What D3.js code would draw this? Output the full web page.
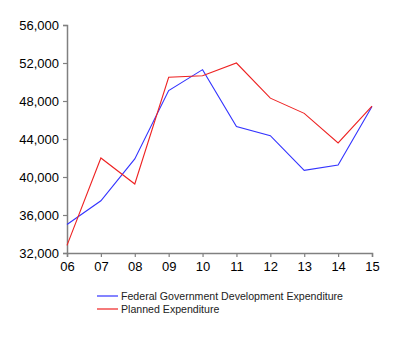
<!DOCTYPE html>
<html><head><meta charset="utf-8">
<script src="https://cdn.jsdelivr.net/npm/d3@7"></script>
<style>body{margin:0;background:#fff}svg{display:block}</style>
</head><body>
<svg id="c" width="400" height="339"></svg>
<script>
const years = ["06","07","08","09","10","11","12","13","14","15"];
const federal = [35000,37500,41900,49100,51300,45300,44350,40700,41260,47430];
const planned = [32800,42000,39260,50500,50650,52000,48300,46700,43580,47450];
const yTicks = [32000,36000,40000,44000,48000,52000,56000];
const seriesNames = ["Federal Government Development Expenditure","Planned Expenditure"];
const colors = ["#3333ff","#ee2222"];

const svg = d3.select("#c");
const x = d3.scalePoint().domain(years).range([67,372]);
const y = d3.scaleLinear().domain([32000,56000]).range([253,25]);
const font = "Liberation Sans, Arial, sans-serif";
const axisColor = "#808080";

const yAxis = svg.append("g").attr("transform","translate(67,0)")
  .call(d3.axisLeft(y).tickValues(yTicks).tickSize(4).tickPadding(4).tickFormat(d3.format(",")));
const xAxis = svg.append("g").attr("transform","translate(0,253)")
  .call(d3.axisBottom(x).tickSize(4).tickPadding(5));
[yAxis,xAxis].forEach(g=>{
  g.select(".domain").attr("stroke",axisColor).attr("stroke-width",1.5);
  g.selectAll(".tick line").attr("stroke",axisColor).attr("stroke-width",1.2);
  g.selectAll("text").attr("fill","#000").style("font-family",font).style("font-size","13px");
});

const line = d3.line().x((d,i)=>x(years[i])).y(d=>y(d));
[federal,planned].forEach((s,k)=>{
  svg.append("path").datum(s).attr("d",line).attr("fill","none")
    .attr("stroke",colors[k]).attr("stroke-width",1.1);
});

const leg = svg.append("g");
seriesNames.forEach((n,k)=>{
  const yy = 296 + k*13;
  leg.append("line").attr("x1",97).attr("x2",118).attr("y1",yy).attr("y2",yy)
    .attr("stroke",colors[k]).attr("stroke-width",1.2);
  leg.append("text").attr("x",121).attr("y",yy+4).text(n)
    .style("font-family",font).style("font-size","10.6px").attr("fill","#222");
});
</script>
</body></html>
